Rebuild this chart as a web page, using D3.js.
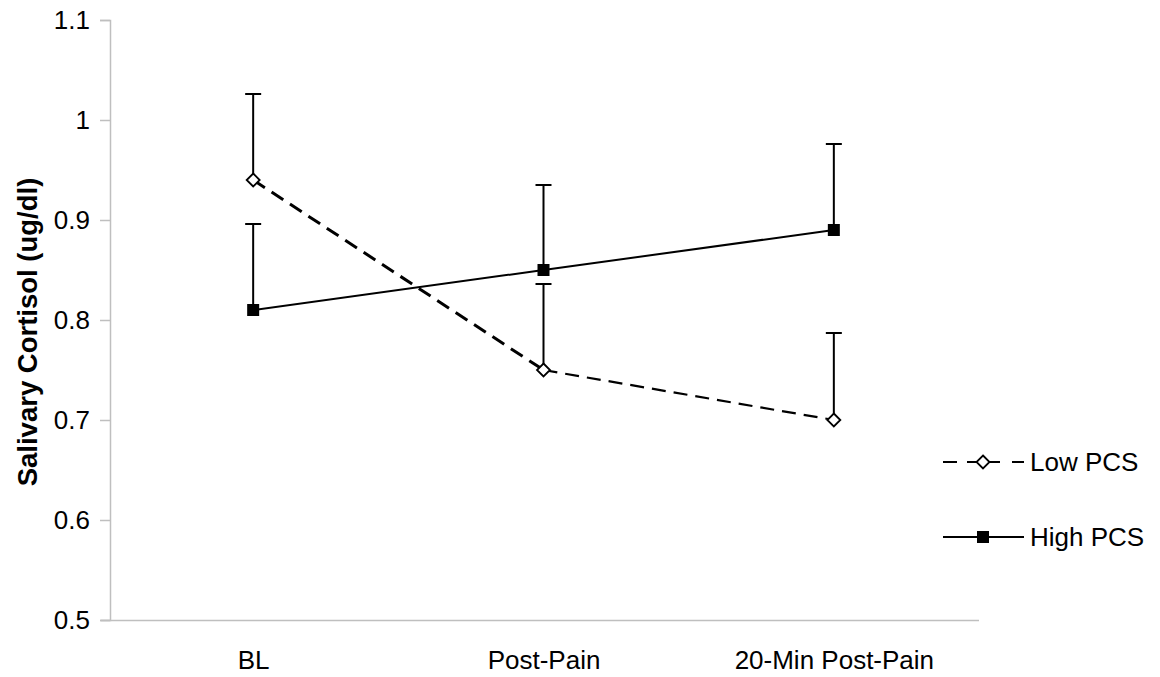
<!DOCTYPE html>
<html><head><meta charset="utf-8">
<script src="https://cdn.jsdelivr.net/npm/d3@7"></script>
<style>body{margin:0;background:#fff;} svg{display:block;font-family:"Liberation Sans",Arial,sans-serif;}</style>
</head><body>
<svg id="c" width="1160" height="677"></svg>
<script>
const categories = ["BL", "Post-Pain", "20-Min Post-Pain"];
const lowPCS = [0.94, 0.75, 0.70];
const lowPCSErr = [0.086, 0.086, 0.087];
const highPCS = [0.81, 0.85, 0.89];
const highPCSErr = [0.086, 0.085, 0.086];
const yTicks = [0.5, 0.6, 0.7, 0.8, 0.9, 1.0, 1.1];
const yTickLabels = ["0.5", "0.6", "0.7", "0.8", "0.9", "1", "1.1"];

const FS = 26;
const svg = d3.select("#c");
const x = d3.scalePoint().domain(categories).range([108, 979]).padding(0.5);
const y = d3.scaleLinear().domain([0.5, 1.1]).range([620, 20]);

// axes
const yAxis = d3.axisLeft(y).tickValues(yTicks).tickFormat((d,i)=>yTickLabels[i]).tickSize(10).tickPadding(10);
const gy = svg.append("g").attr("transform","translate(110,0)").call(yAxis);
gy.select(".domain").attr("stroke","#bfbfbf").attr("stroke-width",1.5);
gy.selectAll(".tick line").attr("stroke","#bfbfbf").attr("stroke-width",1.5);
gy.selectAll(".tick text").attr("font-size",FS).attr("fill","#000").attr("font-family","Liberation Sans, Arial, sans-serif")
  .attr("x",-20);

const xAxis = d3.axisBottom(x).tickSize(0).tickPadding(0);
const gx = svg.append("g").attr("transform","translate(0,620)").call(xAxis);
gx.select(".domain").attr("stroke","#bfbfbf").attr("stroke-width",1.5).attr("d","M101,0.5H979");
gx.selectAll(".tick text").attr("font-size",FS).attr("fill","#000").attr("font-family","Liberation Sans, Arial, sans-serif")
  .attr("y",49).attr("dy",null);

svg.append("text").attr("transform",`translate(37,332) rotate(-90)`).attr("text-anchor","middle")
  .attr("font-size",27.5).attr("font-weight","bold").text("Salivary Cortisol (ug/dl)");

function series(vals, errs, dashed, marker) {
  const data = categories.map((c,i)=>({c, v: vals[i], e: errs[i]}));
  const g = svg.append("g");
  g.selectAll("line.eb").data(data).join("line")
    .attr("x1", d=>x(d.c)).attr("x2", d=>x(d.c))
    .attr("y1", d=>y(d.v)).attr("y2", d=>y(d.v+d.e))
    .attr("stroke","#000").attr("stroke-width",2);
  g.selectAll("line.cap").data(data).join("line")
    .attr("x1", d=>x(d.c)-8).attr("x2", d=>x(d.c)+8)
    .attr("y1", d=>y(d.v+d.e)).attr("y2", d=>y(d.v+d.e))
    .attr("stroke","#000").attr("stroke-width",2);
  const line = d3.line().x(d=>x(d.c)).y(d=>y(d.v));
  if (dashed) {
    for (let i = 0; i < data.length - 1; i++) {
      g.append("path").datum([data[i], data[i+1]]).attr("d", line).attr("fill","none")
        .attr("stroke","#000").attr("stroke-width", i === 0 ? 3 : 2.2)
        .attr("stroke-dasharray", "14,8");
    }
  } else {
    g.append("path").datum(data).attr("d", line).attr("fill","none")
      .attr("stroke","#000").attr("stroke-width", 2);
  }
  data.forEach(d=>drawMarker(g, x(d.c), y(d.v), marker));
}
function drawMarker(g, cx, cy, marker) {
  if (marker === "diamond") {
    g.append("path").attr("d", `M${cx},${cy-6.5}L${cx+6.5},${cy}L${cx},${cy+6.5}L${cx-6.5},${cy}Z`)
      .attr("fill","#fff").attr("stroke","#000").attr("stroke-width",1.8);
  } else {
    g.append("rect").attr("x",cx-6).attr("y",cy-6).attr("width",12).attr("height",12).attr("fill","#000");
  }
}
series(lowPCS, lowPCSErr, true, "diamond");
series(highPCS, highPCSErr, false, "square");

// legend
const legend = [{name:"Low PCS", dashed:true, marker:"diamond", y:462},{name:"High PCS", dashed:false, marker:"square", y:537}];
legend.forEach(l=>{
  const g = svg.append("g");
  g.append("line").attr("x1",943).attr("x2",1024).attr("y1",l.y).attr("y2",l.y)
    .attr("stroke","#000").attr("stroke-width",2).attr("stroke-dasharray", l.dashed ? "14,10,33,12,12" : null);
  drawMarker(g, 983, l.y, l.marker);
  g.append("text").attr("x",1030).attr("y",l.y+9).attr("font-size",FS).text(l.name);
});
</script>
</body></html>
